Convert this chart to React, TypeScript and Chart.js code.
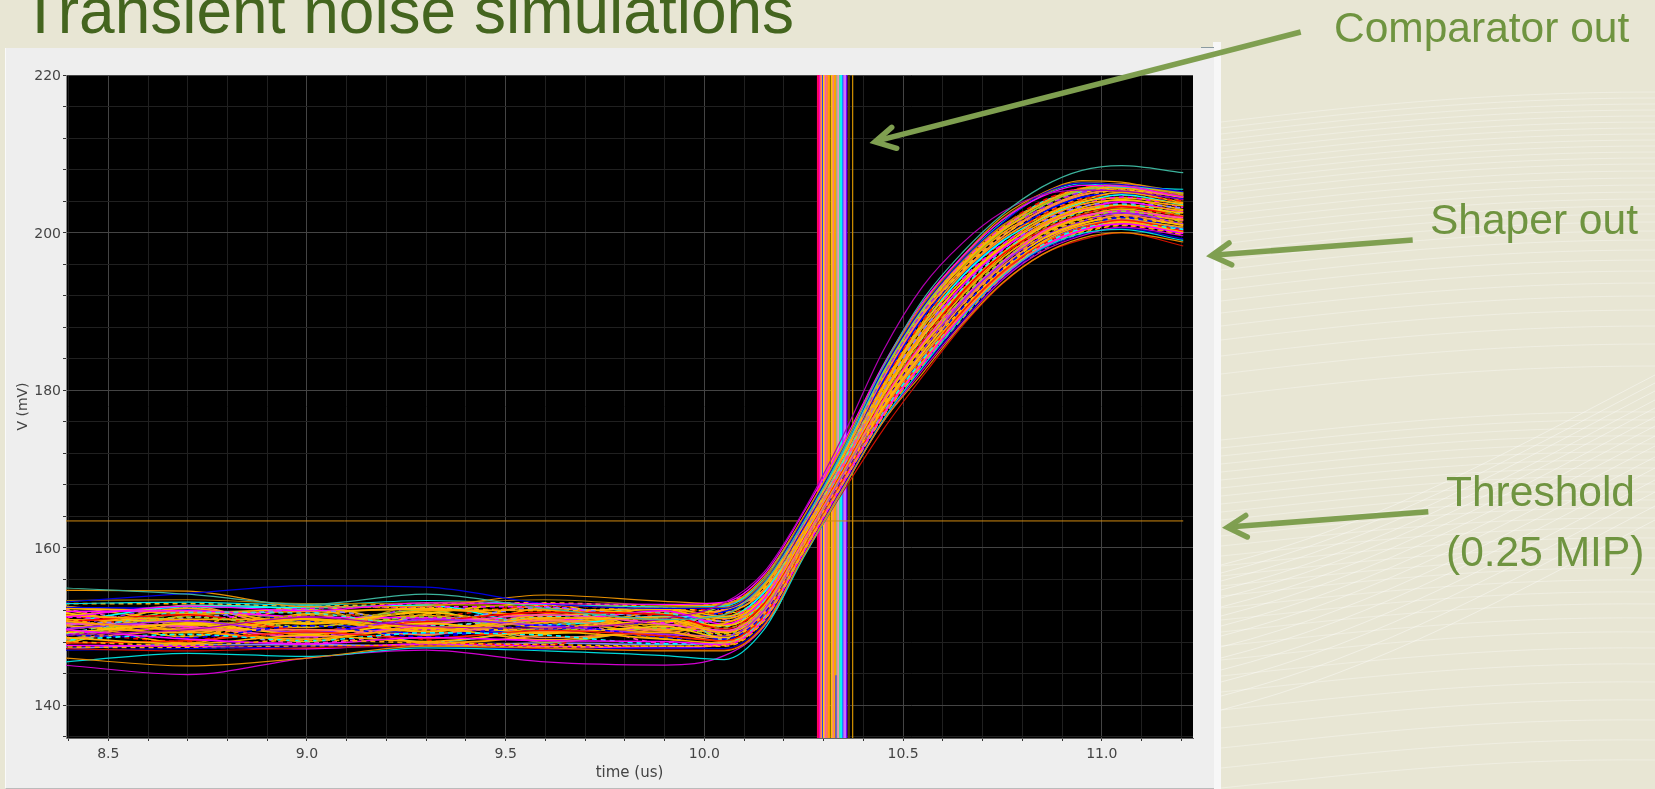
import React, { useEffect, useRef } from "react";
import { Chart, registerables } from "chart.js";
Chart.register(...registerables);

const time = [8.39, 8.7, 9.0, 9.3, 9.6, 9.9, 10.05, 10.15, 10.25, 10.35, 10.45, 10.55, 10.65, 10.75, 10.85, 10.95, 11.05, 11.205];
const xTicks = [8.4, 8.5, 8.6, 8.7, 8.8, 8.9, 9.0, 9.1, 9.2, 9.3, 9.4, 9.5, 9.6, 9.7, 9.8, 9.9, 10.0, 10.1, 10.2, 10.3, 10.4, 10.5, 10.6, 10.7, 10.8, 10.9, 11.0, 11.1, 11.2];
const xLabels = [8.5, 9.0, 9.5, 10.0, 10.5, 11.0];
const yTicks = [136, 140, 144, 148, 152, 156, 160, 164, 168, 172, 176, 180, 184, 188, 192, 196, 200, 204, 208, 212, 216, 220];
const yLabels = [140, 160, 180, 200, 220];
const threshold = 163.4;
const thresholdSpan = [8.39, 11.205];

const shaperRuns = [
  [148.1,147.6,148.3,147.9,147.7,147.5,147.6,150.8,159.5,168.2,176.6,183.2,189.1,194.2,197.8,199.9,200.9,199.7],
  [149.6,148.4,147.8,148.6,148.2,148.1,147.7,150.9,159.4,168.3,176.9,183.4,189.5,194.3,198.1,200.3,201.1,199.9],
  [148.6,147.8,148.9,148.1,149.3,148.4,147.9,150.9,159.7,168.4,176.9,183.6,189.7,194.6,198.2,200.2,201.3,200.0],
  [148.3,149.0,148.2,149.2,148.9,147.8,147.9,151.1,159.7,168.4,177.1,183.9,189.6,194.5,198.4,200.5,201.2,200.4],
  [147.9,148.2,149.3,148.5,149.5,148.8,148.2,151.3,159.9,168.7,177.2,183.9,190.0,195.0,198.5,200.6,201.6,200.2],
  [150.7,149.4,148.4,149.8,148.3,149.3,148.1,151.2,160.0,168.6,177.5,184.4,190.1,194.9,198.8,200.9,201.5,200.7],
  [148.9,148.6,150.1,148.7,150.2,148.6,148.4,151.6,160.0,168.9,177.4,184.3,190.5,195.4,198.9,200.8,201.9,200.6],
  [149.2,150.3,149.0,150.4,149.1,150.0,148.6,151.5,160.2,168.8,177.8,184.8,190.4,195.3,199.2,201.2,201.8,201.0],
  [148.4,149.5,149.6,149.0,150.8,149.4,148.5,151.8,160.2,169.1,177.7,184.7,190.9,195.7,199.1,201.1,202.2,200.9],
  [151.0,148.9,150.6,149.6,149.7,150.6,148.9,151.7,160.4,169.0,178.1,185.2,190.8,195.6,199.5,201.5,202.0,201.3],
  [149.7,150.7,149.2,150.9,150.1,149.0,148.8,152.0,160.4,169.3,178.0,185.1,191.3,196.1,199.4,201.4,202.5,201.1],
  [150.1,149.2,151.0,149.3,151.1,150.9,149.2,152.0,160.6,169.2,178.4,185.6,191.2,196.0,199.8,201.8,202.3,201.6],
  [148.8,151.2,150.0,151.2,149.5,149.8,149.1,152.3,160.6,169.5,178.3,185.5,191.7,196.4,199.7,201.7,202.7,201.4],
  [150.4,150.0,148.7,150.2,151.5,150.3,149.5,152.2,160.9,169.4,178.7,186.0,191.6,196.3,200.1,202.1,202.6,201.9],
  [151.4,150.9,150.9,149.9,150.5,151.2,149.4,152.6,160.8,169.7,178.6,185.9,192.1,196.8,200.0,202.0,203.0,201.7],
  [149.3,149.9,151.4,151.5,150.4,150.1,149.8,152.5,161.1,169.6,179.0,186.4,192.0,196.7,200.4,202.4,202.9,202.2],
  [150.6,151.5,149.5,150.6,151.8,151.5,149.7,152.9,161.0,169.9,178.9,186.3,192.5,197.2,200.3,202.3,203.3,202.0],
  [151.7,150.4,150.4,151.8,149.9,150.7,150.1,152.9,161.3,169.9,179.3,186.8,192.4,197.1,200.7,202.7,203.2,202.5],
  [149.0,151.8,151.7,150.1,151.2,151.7,150.0,153.2,161.2,170.2,179.2,186.7,192.9,197.5,200.6,202.6,203.6,202.3],
  [150.9,150.6,149.9,152.0,152.1,149.6,150.4,153.1,161.5,170.1,179.6,187.2,192.8,197.4,201.0,203.0,203.5,202.8],
  [151.9,152.0,151.2,151.1,150.7,152.0,150.3,153.5,161.4,170.4,179.5,187.1,193.3,197.9,200.9,202.9,203.9,202.6],
  [150.2,151.1,152.1,150.8,152.4,151.0,150.7,153.4,161.7,170.3,179.9,187.6,193.2,197.8,201.3,203.3,203.8,203.1],
  [152.1,149.6,151.5,152.3,151.4,152.2,150.6,153.7,161.6,170.6,179.8,187.5,193.7,198.2,201.2,203.2,204.2,202.9],
  [149.5,152.3,150.3,151.4,149.2,151.9,151.0,153.7,161.9,170.5,180.2,188.0,193.6,198.1,201.6,203.6,204.1,203.4],
  [151.2,150.8,152.3,152.5,152.5,150.5,150.9,154.0,161.8,170.8,180.1,187.9,194.1,198.5,201.5,203.5,204.5,203.2],
  [152.3,151.9,151.0,149.4,151.6,152.3,151.3,153.9,162.1,170.7,180.5,188.4,194.0,198.4,201.9,203.9,204.4,203.7],
  [150.5,152.5,152.4,152.7,150.2,151.3,151.2,154.3,162.0,171.0,180.4,188.3,194.5,198.9,201.8,203.8,204.8,203.5],
  [151.5,149.3,148.9,151.0,152.6,152.1,151.6,154.2,162.3,170.9,180.8,188.8,194.4,198.8,202.2,204.2,204.7,204.0],
  [147.8,151.4,151.9,152.2,151.0,149.2,151.5,154.5,162.2,171.2,180.7,188.7,194.9,199.2,202.1,204.1,205.1,203.8],
  [152.4,152.2,150.7,149.1,149.6,150.8,151.9,154.4,162.5,171.2,181.1,189.2,194.8,199.1,202.5,204.5,205.0,204.3],
  [149.8,150.2,152.5,152.4,152.0,152.4,151.8,154.8,162.4,171.5,181.0,189.1,195.2,199.6,202.4,204.4,205.4,204.1],
  [151.3,152.6,149.4,150.5,148.6,149.9,152.2,154.7,162.7,171.4,181.4,189.6,195.1,199.5,202.8,204.8,205.3,204.6],
  [152.5,151.7,152.2,148.9,152.3,151.6,152.1,155.1,162.7,171.7,181.3,189.5,195.5,199.9,202.7,204.7,205.6,204.4],
  [150.0,152.4,148.5,152.6,150.6,148.9,152.5,155.0,162.9,171.6,181.7,189.9,195.4,199.8,203.1,205.1,205.5,204.8],
  [151.8,148.7,152.6,150.3,152.7,152.5,152.4,155.4,162.9,171.9,181.6,189.8,195.9,200.3,203.0,205.0,205.9,204.6],
  [147.9,152.1,150.5,152.1,148.0,150.4,152.7,155.3,163.1,171.8,182.0,190.3,195.8,200.2,203.4,205.4,205.8,205.0],
  [152.2,149.9,147.9,149.5,151.3,147.9,152.6,155.7,163.1,172.1,181.9,190.2,196.2,200.6,203.3,205.3,206.1,204.7],
  [150.8,147.9,151.6,147.9,149.0,152.6,152.8,155.6,163.3,172.0,182.3,190.5,196.1,200.5,203.7,205.6,206.0,204.9],
  [148.2,151.6,149.1,152.8,152.2,148.5,152.3,155.9,163.3,172.3,182.2,190.4,196.4,200.9,203.6,205.5,206.2,205.1],
  [149.4,148.1,152.8,148.3,147.7,151.8,152.7,156.1,163.5,172.4,182.4,190.4,196.3,200.8,204.0,205.7,206.1,204.8],
  [152.6,150.5,148.1,151.6,152.9,149.5,152.0,150.7,159.6,168.5,177.0,183.8,190.3,195.2,198.7,200.4,201.4,200.1],
  [148.0,152.7,152.0,148.0,150.0,152.7,148.3,155.8,163.6,172.6,182.1,190.1,196.0,200.4,203.9,205.2,205.7,204.5],
  [147.4,147.3,147.5,147.6,147.4,147.5,147.5,150.7,159.4,168.1,176.7,183.3,189.3,194.4,198.0,200.1,201.0,199.8],
  [147.6,147.5,147.2,147.8,147.5,147.3,147.8,151.0,159.6,168.3,177.0,183.7,189.8,194.7,198.3,200.4,201.4,200.3],
  [147.2,147.7,147.7,147.5,147.9,147.7,148.0,151.2,159.8,168.6,177.3,184.1,190.2,195.1,198.6,200.7,201.7,200.5],
  [152.9,152.9,152.6,152.9,153.0,152.6,152.9,156.0,163.4,172.5,182.3,190.2,196.2,200.7,203.8,205.6,205.9,205.0],
  [150.3,150.1,150.8,150.7,150.9,150.2,150.2,153.3,161.6,170.2,179.4,186.9,192.7,197.3,200.8,202.8,203.4,202.1],
  [149.1,149.8,149.3,149.7,149.4,149.7,149.3,152.4,160.7,169.4,178.5,185.7,191.4,196.2,199.9,201.9,202.8,201.5],
];

const runColors = ["#FFA500", "#FF00FF", "#FFB000", "#00FFFF", "#FF2000", "#FFA500", "#0000FF", "#FFC000", "#FF7F50", "#FFA500", "#A020F0", "#FFB000", "#9ACD32", "#FF40C0", "#FFA500", "#B8860B", "#FF0000", "#FFC000", "#40E0D0", "#FFA500", "#FF00FF", "#8080FF", "#FFB000"];
const dashedEvery = 3;
const dashPattern = [5, 4];

const tealTop = [154.9,154.1,152.8,154.1,152.3,150.9,151.5,155.5,163.2,172.5,183.0,191.5,197.5,202.3,205.8,207.9,208.5,207.6];
const purpleTop = [148.9,149.6,151.2,150.0,149.8,151.0,153.0,156.9,164.7,174.3,185.0,193.2,198.7,202.6,204.8,205.4,205.3,204.2];
const magentaUpper = [151.2,152.6,152.0,153.0,152.9,152.8,153.1,156.6,164.5,173.4,183.2,191.2,197.0,201.6,204.6,206.0,205.9,204.5];
const blueTop = [153.1,154.2,155.2,155.0,152.9,152.3,152.3,155.6,163.6,172.6,182.6,190.6,196.6,201.2,204.9,206.3,206.1,205.2];
const orangeTop = [154.6,154.5,152.5,152.6,154.0,153.2,152.9,156.3,164.0,173.0,183.0,191.0,197.0,202.0,205.0,206.6,206.4,204.8];
const goldTop = [153.3,153.4,152.9,153.0,153.4,152.6,152.4,155.9,163.7,172.9,182.8,190.8,196.8,201.7,204.8,206.4,206.0,204.6];
const cyanUpper = [152.9,153.1,152.7,153.3,152.8,152.5,152.6,156.0,163.4,172.2,182.5,190.7,196.6,201.3,204.7,206.2,205.8,205.5];
const orangeLow = [146.0,145.0,146.0,147.5,147.3,146.9,146.9,150.1,159.0,167.6,176.0,182.2,188.4,193.6,197.2,199.3,200.0,198.8];
const cyanLow = [145.5,146.6,146.2,147.3,146.9,146.3,145.8,149.6,158.8,167.5,176.2,183.0,189.3,194.5,198.0,199.9,200.4,199.0];
const magentaLow = [145.1,143.9,146.0,147.0,145.5,145.1,146.3,150.0,159.0,167.7,176.0,182.6,188.6,194.0,197.6,199.6,200.7,199.6];
const redLow = [147.2,146.9,147.3,147.5,147.2,147.0,147.0,150.2,158.9,167.2,175.0,181.8,188.2,193.5,197.2,199.1,200.0,198.3];
const blueLow = [147.0,147.2,147.4,147.4,147.1,147.3,147.2,150.4,159.1,167.9,176.3,182.9,188.9,194.1,197.9,199.7,200.6,199.2];

const outlierRuns = [tealTop, purpleTop, magentaUpper, blueTop, orangeTop, goldTop, cyanUpper, orangeLow, cyanLow, magentaLow, redLow, blueLow];
const outlierColors = ["#3CB39C", "#B000B0", "#FF00FF", "#0000E0", "#E89000", "#A87800", "#00E0E0", "#E08A00", "#00D8D8", "#D000D0", "#D01000", "#0000D0"];

const comparatorTimes = [10.2858, 10.2896, 10.2934, 10.2959, 10.2997, 10.3034, 10.3085, 10.3135, 10.3198, 10.3236, 10.3286, 10.3324, 10.3361, 10.3399, 10.3437, 10.3475, 10.35, 10.3538, 10.3575, 10.3638, 10.3731];
const comparatorColors = ["#FF0060", "#FF00C0", "#FFA040", "#2040FF", "#FFD000", "#FF60C0", "#FF8050", "#FFA500", "#FFC000", "#FF8080", "#FFA500", "#A0B080", "#FF90C0", "#40E0A0", "#00FFFF", "#2080FF", "#FF40FF", "#C080FF", "#8000FF", "#5A3E00", "#C88A00"];
const comparatorRange = [135.85, 220];
const blueStubTime = 10.3311;
const blueStubRange = [135.85, 143.8];

const waveStartsUpper = [104, 110, 116, 122, 128, 134, 140, 146, 152, 158, 164, 170, 176, 183, 190, 197, 204, 211, 218, 226, 234, 243, 252, 262, 272, 283, 295, 308, 322, 338, 356, 378];
const waveStartsLower = [424, 432, 440, 448, 456, 464, 472, 480, 488, 496, 504, 512, 520, 530, 540, 550, 560, 570, 580, 592, 604, 616, 630, 644, 660, 676, 694, 712, 732, 752, 772];
const waveStartsBand = [505, 513, 521, 530, 538, 547, 556, 566, 576, 587, 598, 610, 622, 636, 650];

const background = "#E8E6D4";
const green = "#6F9440";
const arrow = "#7F9F50";

function App() {
  const ref = useRef<HTMLCanvasElement | null>(null);
  useEffect(() => {
    const runDatasets = shaperRuns.map((run, i) => ({
      data: run.map((y, j) => ({ x: time[j], y })),
      borderColor: runColors[i % runColors.length],
      borderWidth: 1.6,
      borderDash: i % dashedEvery === 0 ? dashPattern : [],
      borderDashOffset: i,
    }));
    const outlierDatasets = outlierRuns.map((run, i) => ({
      data: run.map((y, j) => ({ x: time[j], y })),
      borderColor: outlierColors[i],
      borderWidth: 1.2,
    }));
    const comparatorDatasets = comparatorTimes.map((x, i) => ({
      data: comparatorRange.map((y) => ({ x, y })),
      borderColor: comparatorColors[i],
      borderWidth: i === comparatorTimes.length - 1 ? 1.3 : 2,
      cubicInterpolationMode: "default",
    }));
    const plotBackground = {
      id: "plotBackground",
      beforeDraw(c: any) {
        const { ctx, chartArea: a } = c;
        ctx.save();
        ctx.fillStyle = "#000";
        ctx.fillRect(a.left, a.top, a.right - a.left, a.bottom - a.top);
        ctx.restore();
      },
    };
    const chart = new Chart(ref.current as HTMLCanvasElement, {
      type: "line",
      data: {
        datasets: [
          ...outlierDatasets,
          ...runDatasets,
          {
            data: thresholdSpan.map((x) => ({ x, y: threshold })),
            borderColor: "#D08A10",
            borderWidth: 1,
          },
          {
            data: blueStubRange.map((y) => ({ x: blueStubTime, y })),
            borderColor: "#3030FF",
            borderWidth: 1.2,
          },
          ...comparatorDatasets,
        ] as any,
      },
      options: {
        animation: false,
        responsive: false,
        events: [],
        layout: { padding: { left: 0, top: 75, right: 462, bottom: 0 } },
        elements: {
          point: { radius: 0 },
          line: { cubicInterpolationMode: "monotone" },
        },
        plugins: { legend: { display: false }, tooltip: { enabled: false } },
        scales: {
          x: {
            type: "linear",
            min: 8.3936,
            max: 11.2296,
            afterFit(s: any) {
              s.height = 51;
            },
            afterBuildTicks(s: any) {
              s.ticks = xTicks.map((value) => ({ value }));
            },
            grid: {
              color: (c: any) => (xLabels.includes(c.tick?.value) ? "#444444" : "#202020"),
              tickColor: "#333",
              tickLength: 3,
              lineWidth: 1,
            },
            border: { color: "#666" },
            ticks: {
              autoSkip: false,
              maxRotation: 0,
              padding: 5,
              color: "#444",
              font: { family: "'DejaVu Sans'", size: 14 },
              callback: (v: any) => (xLabels.includes(v) ? Number(v).toFixed(1) : ""),
            },
            title: {
              display: true,
              text: "time (us)",
              color: "#444",
              font: { family: "'DejaVu Sans'", size: 15 },
              padding: { top: 0, bottom: 7 },
            },
          },
          y: {
            type: "linear",
            min: 135.85,
            max: 220,
            afterFit(s: any) {
              s.width = 66;
            },
            afterBuildTicks(s: any) {
              s.ticks = yTicks.map((value) => ({ value }));
            },
            grid: {
              color: (c: any) => (yLabels.includes(c.tick?.value) ? "#444444" : "#202020"),
              tickColor: "#333",
              tickLength: 3,
              lineWidth: 1,
            },
            border: { color: "#888" },
            ticks: {
              autoSkip: false,
              padding: 2,
              labelOffset: 1.5,
              color: "#444",
              font: { family: "'DejaVu Sans'", size: 14 },
              callback: (v: any) => (yLabels.includes(v) ? String(v) : ""),
            },
            title: {
              display: true,
              text: "V (mV)",
              color: "#444",
              font: { family: "'DejaVu Sans'", size: 14 },
              padding: { top: 15, bottom: 0 },
            },
          },
        },
      },
      plugins: [plotBackground],
    } as any);
    return () => chart.destroy();
  }, []);

  const text = (s: string, left: number, baseline: number, size: number, color: string) => (
    <div
      style={{
        position: "absolute",
        left,
        top: baseline - size + 4.2,
        height: size * 1.15,
        lineHeight: `${size * 1.15}px`,
        fontFamily: "'Liberation Sans', Arial, sans-serif",
        fontSize: size,
        color,
        whiteSpace: "nowrap",
      }}
    >
      {s}
    </div>
  );

  return (
    <div style={{ position: "absolute", left: 0, top: 0, width: 1655, height: 789, overflow: "hidden", background }}>
      <svg width={1655} height={789} style={{ position: "absolute", left: 0, top: 0 }}>
        {waveStartsUpper.map((y) => (
          <path key={`u${y}`} d={`M1221 ${y + 18} C1340 ${y + 4} 1480 ${y - 12} 1655 ${y - 12}`} stroke="#fff" strokeOpacity={0.4} strokeWidth={0.8} fill="none" />
        ))}
        {waveStartsLower.map((y) => (
          <path key={`l${y}`} d={`M1221 ${y + 16} C1340 ${y + 4} 1480 ${y - 14} 1655 ${y - 12}`} stroke="#fff" strokeOpacity={0.4} strokeWidth={0.8} fill="none" />
        ))}
        {waveStartsBand.map((y) => (
          <path key={`b${y}`} d={`M1221 ${y + 60} C1380 ${y + 20} 1520 ${y - 60} 1655 ${y - 130}`} stroke="#fff" strokeOpacity={0.5} strokeWidth={0.8} fill="none" />
        ))}
      </svg>
      <div style={{ position: "absolute", left: 1213, top: 42, width: 8, height: 747, background: "#F7F7F7" }} />
      <div style={{ position: "absolute", left: 5, top: 48, width: 1208, height: 740, background: "#EEEEEE", borderLeft: "1px solid #FAFAFA", borderBottom: "1px solid #BBB" }} />
      <div style={{ position: "absolute", left: 1201, top: 47, width: 13, height: 1, background: "#8A9AA0" }} />
      <canvas ref={ref} width={1655} height={789} style={{ position: "absolute", left: 0, top: 0, display: "block" }} />
      {text("Transient noise simulations", 21, 35, 64, "#44651F")}
      {text("Comparator out", 1334, 42, 42.5, green)}
      {text("Shaper out", 1430, 234, 42.5, green)}
      {text("Threshold", 1446, 506, 42.5, green)}
      {text("(0.25 MIP)", 1446, 566, 42.5, green)}
      <svg width={1655} height={789} style={{ position: "absolute", left: 0, top: 0 }}>
        <g stroke={arrow} strokeWidth={5.5} fill="none" strokeLinecap="round" strokeLinejoin="miter">
          <line x1={1300.7} y1={32} x2={876} y2={141.2} strokeLinecap="butt" />
          <polyline points="891.7,127.3 875,141.8 896.7,148.3" />
          <line x1={1412.7} y1={240} x2={1212} y2={255.3} strokeLinecap="butt" />
          <polyline points="1229,243 1211.5,255.6 1231.7,264.8" />
          <line x1={1428.3} y1={511.7} x2={1228} y2={527.1} strokeLinecap="butt" />
          <polyline points="1245.7,515.5 1227.5,527.4 1247.3,537" />
        </g>
      </svg>
    </div>
  );
}

export default App;
